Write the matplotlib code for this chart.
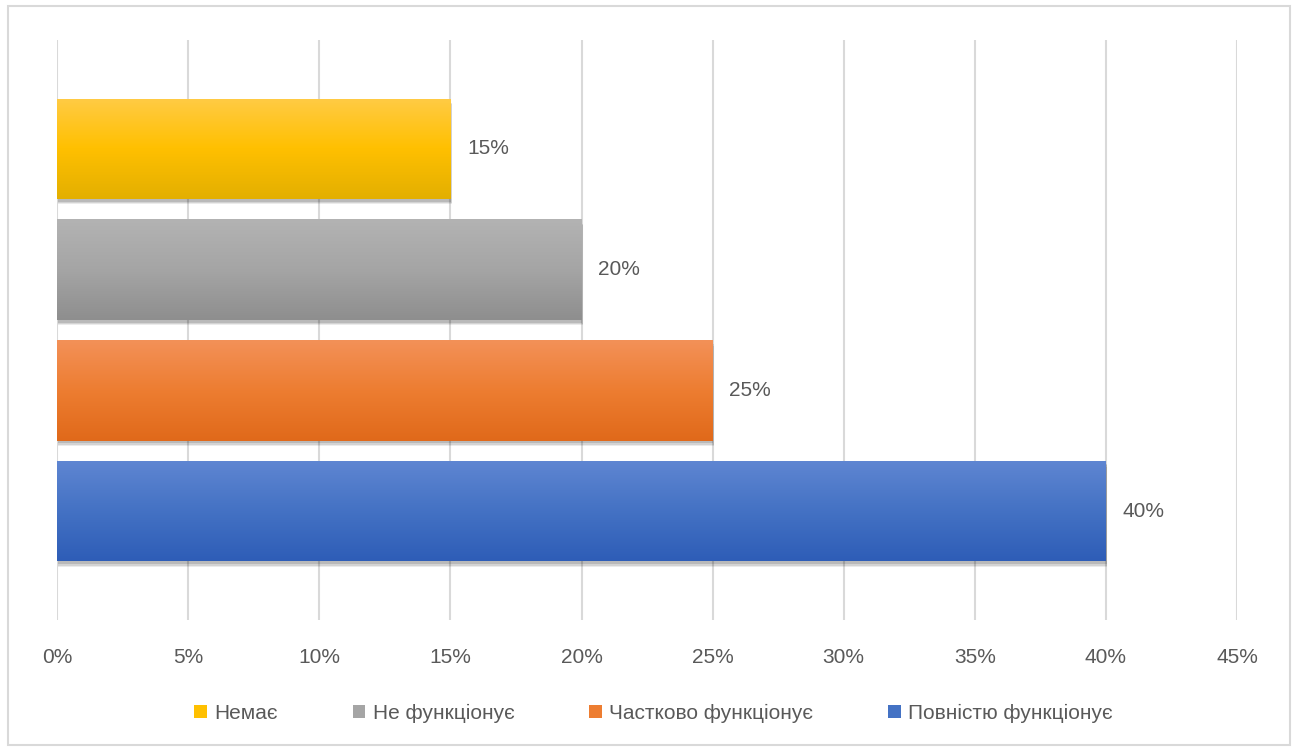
import matplotlib.pyplot as plt
import numpy as np
from matplotlib.colors import LinearSegmentedColormap
from matplotlib.patches import Rectangle
import matplotlib.patheffects as pe

plt.rcParams['font.family'] = ['Liberation Sans', 'DejaVu Sans']

categories = ['Немає', 'Не функціонує', 'Частково функціонує', 'Повністю функціонує']
values = [15, 20, 25, 40]
# top / middle / bottom gradient colours per bar
grads = [
    ['#FFCB45', '#FFC000', '#E3AF00'],
    ['#B3B3B3', '#A5A5A5', '#8E8E8E'],
    ['#F39158', '#ED7D31', '#E0691A'],
    ['#5F86D2', '#4472C4', '#2E5DB7'],
]
xticks = [0, 5, 10, 15, 20, 25, 30, 35, 40, 45]

fig = plt.figure(figsize=(12.94, 7.51), dpi=100)
ax = fig.add_axes([0.0441, 0.1744, 0.9119, 0.7723])

pos = [3, 2, 1, 0]
h = 0.83
shadow = [pe.SimplePatchShadow(offset=(1, -4), shadow_rgbFace='k', alpha=0.08),
          pe.SimplePatchShadow(offset=(1, -3), shadow_rgbFace='k', alpha=0.1),
          pe.SimplePatchShadow(offset=(0.5, -2), shadow_rgbFace='k', alpha=0.12),
          pe.Normal()]
handles = []
for i, (cat, v) in enumerate(zip(categories, values)):
    bar = ax.barh(pos[i], v, height=h, color=grads[i][1], zorder=3, path_effects=shadow)[0]
    cmap = LinearSegmentedColormap.from_list('g%d' % i, grads[i])
    grad = np.linspace(0, 1, 256).reshape(-1, 1)
    im = ax.imshow(grad, cmap=cmap, aspect='auto', zorder=4,
                   extent=[0, v, pos[i] - h / 2, pos[i] + h / 2], origin='upper')
    im.set_clip_path(bar)
    ax.annotate('%d%%' % v, (v, pos[i]), xytext=(12, 0), textcoords='offset points',
                va='center', ha='left', fontsize=15, color='#595959')
    handles.append(Rectangle((0, 0), 1, 1, facecolor=grads[i][1]))

ax.set_xlim(0, 45)
ax.set_ylim(-0.9, 3.9)
ax.set_xticks(xticks)
ax.set_xticklabels(['%d%%' % t for t in xticks], fontsize=15, color='#595959')
ax.set_yticks([])
ax.tick_params(axis='x', length=0, pad=20)
ax.grid(axis='x', color='#D9D9D9', linewidth=1.5, zorder=0)
for s in ax.spines.values():
    s.set_visible(False)

leg = fig.legend(handles, categories, loc='center', bbox_to_anchor=(0.505, 0.0506), ncol=4,
                 frameon=False, handlelength=0.6, handleheight=0.6, handletextpad=0.35,
                 columnspacing=3.6, fontsize=15)
for t in leg.get_texts():
    t.set_color('#595959')

fig.patches.append(Rectangle((8 / 1294, 6 / 751), 1282 / 1294, 739 / 751, transform=fig.transFigure,
                             fill=False, edgecolor='#D9D9D9', linewidth=1.5))

fig.savefig('out.png', dpi=100)
